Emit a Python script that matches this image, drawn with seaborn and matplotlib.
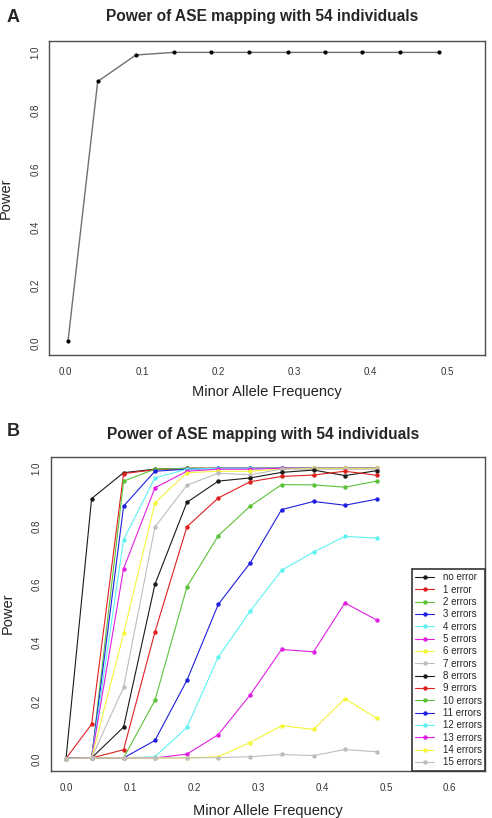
import numpy as np
import pandas as pd
import matplotlib
matplotlib.use("Agg")
import matplotlib.pyplot as plt
import seaborn as sns

# ---- data ----
maf_a = [0.003, 0.042, 0.092, 0.142, 0.191, 0.241, 0.291, 0.340, 0.389, 0.439, 0.489]
power_a = [0.007, 0.900, 0.991, 1.0, 1.0, 1.0, 1.0, 1.0, 1.0, 1.0, 1.0]

maf_b = [0.0, 0.040, 0.090, 0.139, 0.189, 0.238, 0.288, 0.337, 0.387, 0.436, 0.486]
series_names = ["no error", "1 error"] + [f"{k} errors" for k in range(2, 16)]
p_no_error = [0.002, 0.896, 0.985, 0.997, 1.0, 1.0, 1.0, 1.0, 1.0, 1.0, 1.0]
p_err1 = [0.002, 0.120, 0.982, 0.995, 1.0, 1.0, 1.0, 1.0, 1.0, 1.0, 1.0]
p_err2 = [0.002, 0.004, 0.956, 0.997, 1.0, 1.0, 1.0, 1.0, 1.0, 1.0, 1.0]
p_err3 = [0.002, 0.004, 0.870, 0.990, 0.997, 1.0, 1.0, 1.0, 1.0, 1.0, 1.0]
p_err4 = [0.002, 0.004, 0.755, 0.967, 0.997, 1.0, 1.0, 1.0, 1.0, 1.0, 1.0]
p_err5 = [0.002, 0.004, 0.655, 0.933, 0.990, 0.997, 0.997, 1.0, 1.0, 1.0, 1.0]
p_err6 = [0.002, 0.004, 0.432, 0.881, 0.985, 0.990, 0.990, 0.997, 1.0, 1.0, 1.0]
p_err7 = [0.002, 0.004, 0.247, 0.798, 0.942, 0.983, 0.978, 0.997, 0.997, 0.997, 0.997]
p_err8 = [0.002, 0.004, 0.110, 0.601, 0.883, 0.956, 0.967, 0.986, 0.994, 0.975, 0.992]
p_err9 = [0.002, 0.004, 0.032, 0.437, 0.799, 0.898, 0.954, 0.972, 0.977, 0.990, 0.976]
p_err10 = [0.002, 0.004, 0.004, 0.202, 0.592, 0.768, 0.870, 0.944, 0.943, 0.935, 0.956]
p_err11 = [0.002, 0.004, 0.004, 0.064, 0.271, 0.532, 0.675, 0.858, 0.886, 0.873, 0.894]
p_err12 = [0.002, 0.004, 0.004, 0.008, 0.109, 0.351, 0.509, 0.649, 0.712, 0.766, 0.760]
p_err13 = [0.002, 0.004, 0.004, 0.004, 0.017, 0.084, 0.221, 0.377, 0.369, 0.537, 0.478]
p_err14 = [0.002, 0.004, 0.004, 0.004, 0.004, 0.008, 0.057, 0.115, 0.102, 0.208, 0.140]
p_err15 = [0.002, 0.004, 0.004, 0.004, 0.004, 0.005, 0.008, 0.016, 0.012, 0.033, 0.025]
all_power = [p_no_error, p_err1, p_err2, p_err3, p_err4, p_err5, p_err6, p_err7,
             p_err8, p_err9, p_err10, p_err11, p_err12, p_err13, p_err14, p_err15]

# R default palette, repeated
r_pal = ["#1a1a1a", "#e01f1f", "#5cc23a", "#1f1fe0", "#5ff2f2", "#e01fe0", "#f5f53a", "#bdbdbd"]
palette = dict(zip(series_names, r_pal * 2))

df_a = pd.DataFrame({"maf": maf_a, "power": power_a})
df_b = pd.concat(
    [pd.DataFrame({"maf": maf_b, "power": p, "series": name})
     for name, p in zip(series_names, all_power)],
    ignore_index=True)

# ---- figure ----
sns.set_style("white")
plt.rcParams["font.family"] = ["Liberation Sans", "DejaVu Sans"]
edge = "#4d4d4d"

fig = plt.figure(figsize=(4.92, 8.18), dpi=100)
ax_a = fig.add_axes([0.1002, 0.566, 0.8856, 0.3842])
ax_b = fig.add_axes([0.1030, 0.0578, 0.8827, 0.3839])

sns.lineplot(data=df_a, x="maf", y="power", ax=ax_a, color="#707070", linewidth=1.0,
             marker="o", markersize=3, markerfacecolor="black", markeredgecolor="black",
             markeredgewidth=0)

sns.lineplot(data=df_b, x="maf", y="power", hue="series", hue_order=series_names,
             palette=palette, ax=ax_b, linewidth=0.8, marker="o", markersize=3.2,
             markeredgewidth=0, sort=False, estimator=None)

ax_a.set_xlim(-0.0215, 0.550)
ax_a.set_xticks([0.0, 0.1, 0.2, 0.3, 0.4, 0.5])
ax_b.set_xlim(-0.024, 0.655)
ax_b.set_xticks([0.0, 0.1, 0.2, 0.3, 0.4, 0.5, 0.6])

for ax in (ax_a, ax_b):
    ax.set_ylim(-0.04, 1.04)
    ax.set_yticks([0.0, 0.2, 0.4, 0.6, 0.8, 1.0])
    ax.set_xticklabels([f"{t:.1f}" for t in ax.get_xticks()])
    ax.set_yticklabels([f"{t:.1f}" for t in ax.get_yticks()], rotation=90, va="center")
    ax.tick_params(axis="both", direction="out", length=4.5, width=0.8, color=edge,
                   labelsize=7, labelcolor="#333333")
    ax.tick_params(axis="y", pad=2)
    ax.tick_params(axis="x", pad=4)
    for s in ax.spines.values():
        s.set_color(edge)
        s.set_linewidth(1.0)
    ax.set_xlabel("Minor Allele Frequency", fontsize=10.5, color="#222222")
    ax.set_ylabel("Power", fontsize=10.5, color="#222222")
    ax.yaxis.set_label_coords(-0.083, 0.5)

ax_a.xaxis.set_label_coords(0.5, -0.095)
ax_b.xaxis.set_label_coords(0.5, -0.107)

# legend sits in the bottom-right corner, sharing the axes frame
leg = ax_b.legend(loc="lower right", bbox_to_anchor=(1.0, 0.0), borderaxespad=0,
                  fontsize=7, frameon=True, fancybox=False, framealpha=1,
                  edgecolor="#333333", handlelength=1.9, handletextpad=0.9,
                  labelspacing=0.24, borderpad=0.35, title=None)
leg.get_frame().set_linewidth(1.2)

fig.text(262 / 492, 1 - 17 / 818, "Power of ASE mapping with 54 individuals",
         ha="center", va="center", fontsize=11.2, fontweight="bold")
fig.text(263 / 492, 1 - 435 / 818, "Power of ASE mapping with 54 individuals",
         ha="center", va="center", fontsize=11.2, fontweight="bold")
fig.text(13 / 492, 1 - 17 / 818, "A", ha="center", va="center", fontsize=13, fontweight="bold")
fig.text(13 / 492, 1 - 432 / 818, "B", ha="center", va="center", fontsize=13, fontweight="bold")

fig.savefig("out.png", dpi=100)
